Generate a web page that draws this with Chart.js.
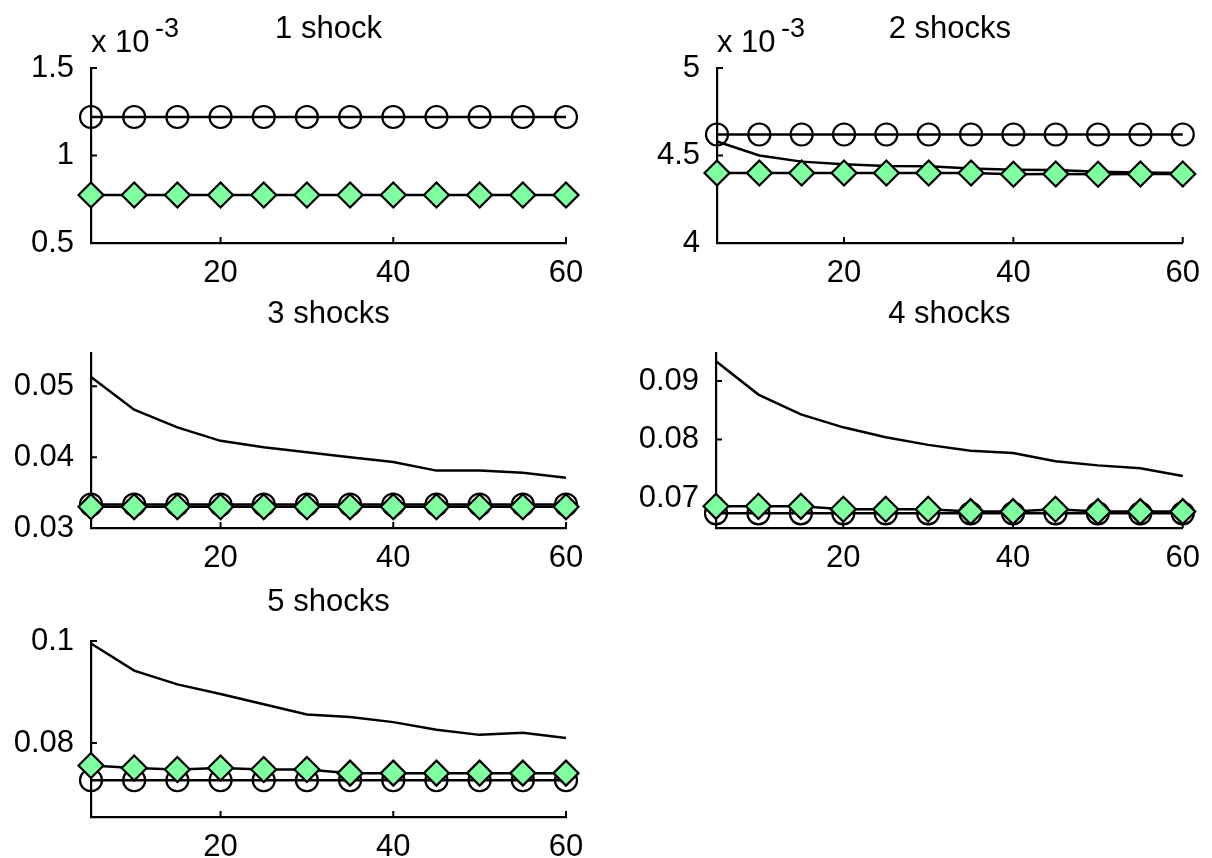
<!DOCTYPE html>
<html>
<head>
<meta charset="utf-8">
<script src="https://cdn.jsdelivr.net/npm/chart.js@4.4.1/dist/chart.umd.min.js"></script>
<style>
html,body{margin:0;padding:0;background:#fff;overflow:hidden;width:1212px;height:858px;position:relative;}
canvas{position:absolute;}
</style>
</head>
<body>
<canvas id="p1"></canvas>
<canvas id="p2"></canvas>
<canvas id="p3"></canvas>
<canvas id="p4"></canvas>
<canvas id="p5"></canvas>
<script>
// ---- data ----
const steps = [5, 10, 15, 20, 25, 30, 35, 40, 45, 50, 55, 60];
const xTickValues = [20, 40, 60];

const titles = ['1 shock', '2 shocks', '3 shocks', '4 shocks', '5 shocks'];

const shock1Circles  = [0.00122, 0.00122, 0.00122, 0.00122, 0.00122, 0.00122, 0.00122, 0.00122, 0.00122, 0.00122, 0.00122, 0.00122];
const shock1Diamonds = [0.000774, 0.000774, 0.000774, 0.000774, 0.000774, 0.000774, 0.000774, 0.000774, 0.000774, 0.000774, 0.000774, 0.000774];

const shock2Circles  = [0.00462, 0.00462, 0.00462, 0.00462, 0.00462, 0.00462, 0.00462, 0.00462, 0.00462, 0.00462, 0.00462, 0.00462];
const shock2Diamonds = [0.00440, 0.00440, 0.00440, 0.00440, 0.00440, 0.00440, 0.00440, 0.004393, 0.004394, 0.004393, 0.004394, 0.004394];
const shock2Line     = [0.00458, 0.00450, 0.004465, 0.00445, 0.00444, 0.004438, 0.004426, 0.004419, 0.004417, 0.004407, 0.004403, 0.00440];

const shock3Circles  = [0.0333, 0.0333, 0.0333, 0.0333, 0.0333, 0.0333, 0.0333, 0.0333, 0.0333, 0.0333, 0.0333, 0.0333];
const shock3Diamonds = [0.0330, 0.0330, 0.0330, 0.0330, 0.0330, 0.0330, 0.0330, 0.0330, 0.0330, 0.0330, 0.0330, 0.0330];
const shock3Line     = [0.0513, 0.0467, 0.0442, 0.0423, 0.0414, 0.0407, 0.0400, 0.0393, 0.0381, 0.0381, 0.0378, 0.0371];

const shock4Circles  = [0.0674, 0.0674, 0.0674, 0.0674, 0.0674, 0.0674, 0.0674, 0.0674, 0.0674, 0.0674, 0.0674, 0.0674];
const shock4Diamonds = [0.0686, 0.0686, 0.0686, 0.0681, 0.0681, 0.0681, 0.0677, 0.0677, 0.0681, 0.0677, 0.0677, 0.0677];
const shock4Line     = [0.0934, 0.0877, 0.0843, 0.0821, 0.0804, 0.0791, 0.0781, 0.0777, 0.0763, 0.0756, 0.0751, 0.0738];

const shock5Circles  = [0.0727, 0.0727, 0.0727, 0.0727, 0.0727, 0.0727, 0.0727, 0.0727, 0.0727, 0.0727, 0.0727, 0.0727];
const shock5Diamonds = [0.0756, 0.0751, 0.0748, 0.0751, 0.0748, 0.0748, 0.0741, 0.0741, 0.0741, 0.0741, 0.0741, 0.0741];
const shock5Line     = [0.0995, 0.0942, 0.0915, 0.0896, 0.0876, 0.0856, 0.0851, 0.0841, 0.0826, 0.0816, 0.0820, 0.0810];

const yMins = [0.0005, 0.004, 0.03, 0.0649, 0.0655];
const yMaxs = [0.0015, 0.005, 0.0547, 0.0948, 0.1];
const yTicks1 = [0.0005, 0.001, 0.0015];
const yTicks2 = [0.004, 0.0045, 0.005];
const yTicks3 = [0.03, 0.04, 0.05];
const yTicks4 = [0.07, 0.08, 0.09];
const yTicks5 = [0.08, 0.1];
const yExponents = ['-3', '-3', '', '', ''];
const yScaleFactors = [1e-3, 1e-3, 1, 1, 1];

// ---- style / layout ----
const FONT = "'Liberation Sans', Arial, Helvetica, sans-serif";
const FS = 31;
const GREEN = '#7fff9f';
const boxes = [
  {x: 0,   y: 0,   w: 600, h: 288, yw: 91,  pr: 34},
  {x: 606, y: 0,   w: 606, h: 288, yw: 111, pr: 21},
  {x: 0,   y: 285, w: 600, h: 288, yw: 91,  pr: 34},
  {x: 606, y: 285, w: 606, h: 288, yw: 110, pr: 21},
  {x: 0,   y: 573, w: 600, h: 289, yw: 91,  pr: 34}
];

const innerTicks = {
  id: 'innerTicks',
  beforeDatasetsDraw(chart) {
    const {ctx, chartArea: a, scales: {x, y}} = chart;
    ctx.save();
    ctx.strokeStyle = '#000';
    ctx.lineWidth = 2;
    ctx.beginPath();
    x.ticks.forEach(t => {
      const px = x.getPixelForValue(t.value);
      ctx.moveTo(px, a.bottom);
      ctx.lineTo(px, a.bottom - 6);
    });
    y.ticks.forEach(t => {
      const py = y.getPixelForValue(t.value);
      ctx.moveTo(a.left, py);
      ctx.lineTo(a.left + 6, py);
    });
    ctx.stroke();
    ctx.restore();
  }
};

function exponentPlugin(exp) {
  return {
    id: 'expo',
    afterDraw(chart) {
      if (!exp) return;
      const {ctx, chartArea: a} = chart;
      ctx.save();
      ctx.fillStyle = '#000';
      ctx.textAlign = 'left';
      ctx.textBaseline = 'alphabetic';
      ctx.font = FS + 'px ' + FONT;
      ctx.fillText('x 10', a.left, a.top - 16);
      ctx.font = '27px ' + FONT;
      ctx.fillText(exp, a.left + 64, a.top - 31);
      ctx.restore();
    }
  };
}

function fmt(v) {
  return String(parseFloat(v.toFixed(6)));
}

function makePanel(i, yTicks, circles, diamonds, line) {
  const box = boxes[i];
  const canvas = document.getElementById('p' + (i + 1));
  canvas.width = box.w;
  canvas.height = box.h;
  canvas.style.left = box.x + 'px';
  canvas.style.top = box.y + 'px';
  const toPts = arr => steps.map((s, k) => ({x: s, y: arr[k]}));
  const datasets = [];
  if (line) {
    datasets.push({
      data: toPts(line), borderColor: '#000', borderWidth: 2.5,
      pointRadius: 0, pointHoverRadius: 0, order: 2, clip: false, tension: 0
    });
  }
  datasets.push({
    data: toPts(circles), borderColor: '#000', borderWidth: 2.5,
    pointStyle: 'circle', pointRadius: 11, pointHoverRadius: 11, pointBorderWidth: 2.2,
    pointBorderColor: '#000', pointBackgroundColor: 'rgba(0,0,0,0)',
    order: 1, clip: false, tension: 0
  });
  datasets.push({
    data: toPts(diamonds), borderColor: '#000', borderWidth: 2.5,
    pointStyle: 'rectRot', pointRadius: 12.5, pointHoverRadius: 12.5, pointBorderWidth: 2.2,
    pointBorderColor: '#000', pointBackgroundColor: GREEN,
    order: 0, clip: false, tension: 0
  });
  const sf = yScaleFactors[i];
  new Chart(canvas, {
    type: 'line',
    data: {datasets},
    options: {
      responsive: false,
      animation: false,
      devicePixelRatio: 1,
      events: [],
      layout: {padding: {left: 0, right: box.pr, top: 0, bottom: 0}},
      plugins: {
        legend: {display: false},
        tooltip: {enabled: false},
        title: {
          display: true, text: titles[i], fullSize: false, color: '#000',
          font: {family: FONT, size: FS, weight: 'normal'},
          padding: {top: 11, bottom: 68 - 11 - FS * 1.2}
        }
      },
      scales: {
        x: {
          type: 'linear', min: steps[0], max: steps[steps.length - 1],
          afterBuildTicks: s => { s.ticks = xTickValues.map(v => ({value: v})); },
          afterFit: s => { s.height = 45; },
          grid: {display: false, drawTicks: false},
          border: {display: true, color: '#000', width: 2.2},
          ticks: {
            color: '#000', font: {family: FONT, size: FS}, padding: 12,
            maxRotation: 0, autoSkip: false, callback: v => String(v)
          }
        },
        y: {
          type: 'linear', min: yMins[i], max: yMaxs[i],
          afterBuildTicks: s => { s.ticks = yTicks.map(v => ({value: v})); },
          afterFit: s => { s.width = box.yw; },
          grid: {display: false, drawTicks: false},
          border: {display: true, color: '#000', width: 2.2},
          ticks: {
            color: '#000', font: {family: FONT, size: FS}, padding: 17,
            autoSkip: false, callback: v => fmt(v / sf)
          }
        }
      }
    },
    plugins: [innerTicks, exponentPlugin(yExponents[i])]
  });
}

makePanel(0, yTicks1, shock1Circles, shock1Diamonds, null);
makePanel(1, yTicks2, shock2Circles, shock2Diamonds, shock2Line);
makePanel(2, yTicks3, shock3Circles, shock3Diamonds, shock3Line);
makePanel(3, yTicks4, shock4Circles, shock4Diamonds, shock4Line);
makePanel(4, yTicks5, shock5Circles, shock5Diamonds, shock5Line);
</script>
</body>
</html>
